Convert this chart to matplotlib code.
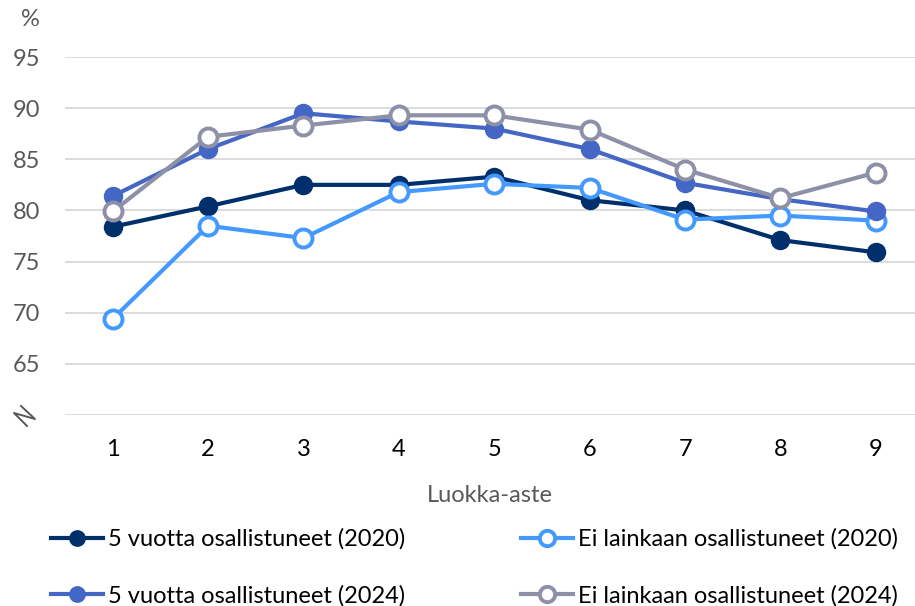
import matplotlib.pyplot as plt
from matplotlib.lines import Line2D

plt.rcParams['font.family'] = ['Lato', 'DejaVu Sans']

grades = [1, 2, 3, 4, 5, 6, 7, 8, 9]
five_2020 = [78.4, 80.4, 82.5, 82.5, 83.3, 81.0, 80.0, 77.1, 75.9]
none_2020 = [69.4, 78.5, 77.3, 81.8, 82.6, 82.2, 79.1, 79.5, 79.0]
five_2024 = [81.4, 86.0, 89.5, 88.7, 88.0, 86.0, 82.7, 81.1, 79.9]
none_2024 = [79.9, 87.2, 88.3, 89.3, 89.3, 87.9, 84.0, 81.2, 83.7]
y_ticks = [60, 65, 70, 75, 80, 85, 90, 95]
y_labels = ['', '65', '70', '75', '80', '85', '90', '95']

lab_five_2020 = "5 vuotta osallistuneet (2020)"
lab_none_2020 = "Ei lainkaan osallistuneet (2020)"
lab_five_2024 = "5 vuotta osallistuneet (2024)"
lab_none_2024 = "Ei lainkaan osallistuneet (2024)"

c_navy = "#00306b"
c_light = "#4499ff"
c_mid = "#4466c4"
c_gray = "#8e90a8"

fig = plt.figure(figsize=(9.15, 6.06), dpi=100)
ax = fig.add_axes([65/915, 191/606, 850/915, 358/606])

lw = 3.0
ms = 13
l1, = ax.plot(grades, five_2020, color=c_navy, lw=lw, marker='o', ms=ms,
              mfc=c_navy, mec=c_navy, label=lab_five_2020)
l2, = ax.plot(grades, none_2020, color=c_light, lw=lw, marker='o', ms=ms,
              mfc='white', mec=c_light, mew=2.8, label=lab_none_2020)
l3, = ax.plot(grades, five_2024, color=c_mid, lw=lw, marker='o', ms=ms,
              mfc=c_mid, mec=c_mid, label=lab_five_2024)
l4, = ax.plot(grades, none_2024, color=c_gray, lw=lw, marker='o', ms=ms,
              mfc='white', mec=c_gray, mew=2.8, label=lab_none_2024)

ax.set_xlim(0.5, 9.41)
ax.set_ylim(60, 95)
ax.set_yticks(y_ticks)
ax.set_yticklabels(y_labels)
ax.set_xticks(grades)
ax.tick_params(axis='y', length=0, pad=18, labelsize=17, labelcolor='#595959')
ax.tick_params(axis='x', length=0, pad=17, labelsize=17, labelcolor='black')
ax.grid(axis='y', color='#d9d9d9', lw=1.3)
ax.set_axisbelow(True)
for s in ax.spines.values():
    s.set_visible(False)

ax.set_xlabel("Luokka-aste", fontsize=17, color='#595959', labelpad=18)
fig.text(30/915, 1 - 20/606, "%", fontsize=17, color='#595959',
         ha='center', va='center')

# axis break mark in place of 60
bx = [21, 35, 14, 27]
by = [406, 419, 413, 426]
fig.add_artist(Line2D([x/915 for x in bx], [1 - y/606 for y in by],
                      color='#595959', lw=1.4, transform=fig.transFigure))

fig.legend(handles=[l1, l3, l2, l4], ncol=2, loc='upper left',
           bbox_to_anchor=(30/915, 1 - 507/606), frameon=False,
           fontsize=17, handlelength=2.2, handletextpad=0.2,
           columnspacing=4.9, labelspacing=1.5, markerscale=0.85)

plt.savefig("out.png", dpi=100)
